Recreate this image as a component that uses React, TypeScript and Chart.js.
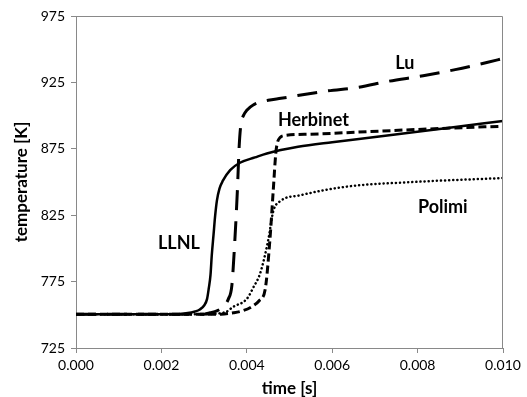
import React, { useEffect, useRef } from "react";
import { Chart, registerables } from "chart.js";

Chart.register(...registerables);

// Time axis values [s] and temperatures [K] for each mechanism
const llnlX = [0, 0.0024, 0.00255, 0.00279, 0.0029, 0.003, 0.00307, 0.00311, 0.00315, 0.00318, 0.00322, 0.00326, 0.0033, 0.00336, 0.00344, 0.00361, 0.00384, 0.00419, 0.00447, 0.0052, 0.006, 0.0071, 0.0087, 0.01];
const llnlY = [750.5, 750.5, 751, 752.5, 754, 757, 762, 770, 780, 795, 810, 825, 836, 845, 851, 859, 864.5, 868.5, 871.5, 876.5, 880, 884.3, 890.7, 896];

const luX = [0, 0.003, 0.00314, 0.0033, 0.00345, 0.00357, 0.00365, 0.00372, 0.00378, 0.00382, 0.00386, 0.00392, 0.004, 0.00415, 0.0045, 0.0048, 0.00587, 0.00661, 0.00731, 0.00813, 0.00888, 0.00962, 0.01];
const luY = [750.5, 750.5, 751.5, 753, 756, 762, 772, 806, 844, 876, 893, 900, 904, 908, 911.5, 913, 918.5, 921.3, 925.8, 930, 934.6, 940, 943];

const herbX = [0, 0.0034, 0.00368, 0.0039, 0.00411, 0.0043, 0.00443, 0.00454, 0.00462, 0.00468, 0.00472, 0.00478, 0.0049, 0.0055, 0.0071, 0.0087, 0.01];
const herbY = [750.5, 750.5, 751.5, 753, 756, 761, 769, 806, 844, 872, 880, 883.5, 885, 886, 888.3, 890.5, 892];

const polimiX = [0, 0.003, 0.0035, 0.00368, 0.004, 0.00416, 0.00431, 0.0045, 0.00462, 0.00478, 0.00525, 0.00634, 0.0079, 0.01];
const polimiY = [750.5, 750.5, 752, 756, 762, 771, 781, 806, 828, 835.5, 840, 846.5, 850, 853];

// Curve labels placed in data coordinates
const labelNames = ["LLNL", "Lu", "Herbinet", "Polimi"];
const labelX = [0.00241, 0.0077, 0.00556, 0.00859];
const labelY = [804, 939.6, 896.4, 831.2];

const xTickValues = [0, 0.002, 0.004, 0.006, 0.008, 0.01];
const yTickValues = [725, 775, 825, 875, 925, 975];

const zip = (xs: number[], ys: number[]) => xs.map((x, i) => ({ x, y: ys[i] }));

const AXIS_GRAY = "#898989";
const FONT = "Lato, 'Open Sans', sans-serif";

export default function App() {
  const ref = useRef<HTMLCanvasElement | null>(null);

  useEffect(() => {
    if (!ref.current) return;

    const framePlugin = {
      id: "frame",
      afterDatasetsDraw(chart: any) {
        const { ctx, chartArea } = chart;
        ctx.save();
        ctx.strokeStyle = AXIS_GRAY;
        ctx.lineWidth = 1;
        ctx.beginPath();
        ctx.moveTo(chartArea.left, chartArea.top + 0.5);
        ctx.lineTo(chartArea.right - 0.5, chartArea.top + 0.5);
        ctx.lineTo(chartArea.right - 0.5, chartArea.bottom);
        ctx.stroke();
        ctx.restore();
      },
    };

    const labelPlugin = {
      id: "curveLabels",
      afterDatasetsDraw(chart: any) {
        const { ctx, scales } = chart;
        ctx.save();
        ctx.fillStyle = "#000";
        ctx.font = `bold 18px ${FONT}`;
        ctx.textAlign = "center";
        ctx.textBaseline = "middle";
        labelNames.forEach((name, i) => {
          ctx.fillText(name, scales.x.getPixelForValue(labelX[i]), scales.y.getPixelForValue(labelY[i]));
        });
        ctx.restore();
      },
    };

    const common = {
      borderColor: "#000",
      backgroundColor: "#000",
      pointRadius: 0,
      fill: false,
      cubicInterpolationMode: "monotone" as const,
    };

    const chart = new Chart(ref.current, {
      type: "line",
      data: {
        datasets: [
          { ...common, label: "LLNL", data: zip(llnlX, llnlY), borderWidth: 2.5 },
          { ...common, label: "Lu", data: zip(luX, luY), borderWidth: 3, borderDash: [20, 11] },
          { ...common, label: "Herbinet", data: zip(herbX, herbY), borderWidth: 3, borderDash: [8, 4] },
          { ...common, label: "Polimi", data: zip(polimiX, polimiY), borderWidth: 2.5, borderDash: [0.1, 4], borderCapStyle: "round" },
        ],
      },
      options: {
        animation: false,
        responsive: false,
        devicePixelRatio: 1,
        layout: { padding: { top: 16, right: 24, left: 0, bottom: 0 } },
        plugins: { legend: { display: false }, tooltip: { enabled: false } },
        scales: {
          x: {
            type: "linear",
            min: 0,
            max: 0.01,
            afterBuildTicks: (scale: any) => {
              scale.ticks = xTickValues.map((v) => ({ value: v }));
            },
            afterFit: (scale: any) => {
              scale.height = 49;
            },
            ticks: {
              color: "#000",
              font: { family: FONT, size: 14 },
              padding: 4,
              maxRotation: 0,
              callback: (v: any) => Number(v).toFixed(3),
            },
            grid: { drawOnChartArea: false, drawTicks: true, tickLength: 5, color: AXIS_GRAY },
            border: { color: AXIS_GRAY },
            title: {
              display: true,
              text: "time [s]",
              color: "#000",
              font: { family: FONT, size: 17, weight: "bold", lineHeight: 1.0 },
              padding: { top: 0, bottom: 0 },
            },
          },
          y: {
            type: "linear",
            min: 725,
            max: 975,
            afterBuildTicks: (scale: any) => {
              scale.ticks = yTickValues.map((v) => ({ value: v }));
            },
            afterFit: (scale: any) => {
              scale.width = 76;
            },
            ticks: {
              color: "#000",
              font: { family: FONT, size: 14 },
              padding: 6,
              callback: (v: any) => String(v),
            },
            grid: { drawOnChartArea: false, drawTicks: true, tickLength: 5, color: AXIS_GRAY },
            border: { color: AXIS_GRAY },
            title: {
              display: true,
              text: "temperature [K]",
              color: "#000",
              font: { family: FONT, size: 17, weight: "bold" },
              padding: { top: 11, bottom: 0 },
            },
          },
        },
      },
      plugins: [framePlugin, labelPlugin],
    } as any);

    return () => chart.destroy();
  }, []);

  return (
    <div style={{ position: "absolute", left: 0, top: 0, width: 527, height: 397, background: "#fff" }}>
      <canvas ref={ref} width={527} height={397} style={{ display: "block" }} />
    </div>
  );
}
